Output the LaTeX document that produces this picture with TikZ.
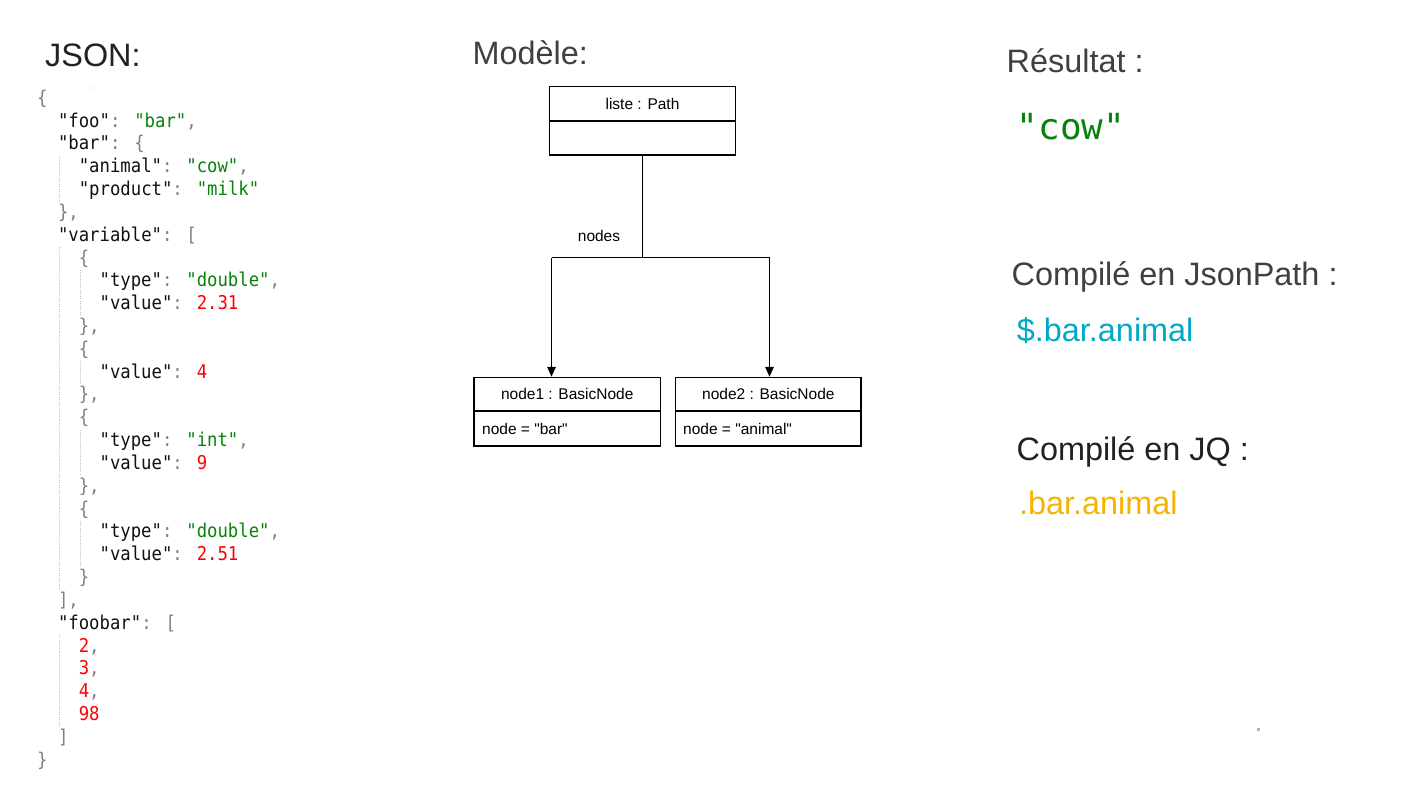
\documentclass[tikz,border=0pt]{standalone}
\usepackage{fontspec}
\setmainfont{Liberation Sans}[Ligatures=TeXOff]
\newfontfamily\codefont{DejaVu Sans Mono}[FakeStretch=0.91]
\newfontfamily\resfont{DejaVu Sans Mono}
\usetikzlibrary{arrows.meta}
\definecolor{jkey}{HTML}{111111}
\definecolor{jstr}{HTML}{08820A}
\definecolor{jnum}{HTML}{FF0000}
\definecolor{jpun}{HTML}{808080}
\definecolor{tdark}{HTML}{222222}
\definecolor{tgray}{HTML}{404040}
\definecolor{jpcyan}{HTML}{00A9C5}
\definecolor{jqgold}{HTML}{F4B400}
\newcommand\jk[1]{\textcolor{jkey}{#1}}
\newcommand\js[1]{\textcolor{jstr}{#1}}
\newcommand\jn[1]{\textcolor{jnum}{#1}}
\newcommand\jp[1]{\textcolor{jpun}{#1}}
\newcommand\cl[3]{\node[code] (l#1) at ({37+10.4*#2},{104.2+22.83*#1}) {#3};}
\newcommand\guide[3]{\draw[guide] ({#1},{104.2+22.83*#2-17}) -- ({#1},{104.2+22.83*#3+6});}
\begin{document}
\begin{tikzpicture}[x=1pt,y=-1pt,
  code/.style={anchor=base west, inner sep=0pt, font=\codefont\fontsize{19}{19}\selectfont},
  guide/.style={gray!50, line width=0.8pt, dash pattern=on 1pt off 1.2pt},
  title/.style={anchor=base west, inner sep=0pt, font=\fontsize{32.4}{36}\selectfont},
  uml/.style={line width=1.4pt, black},
  box/.style={draw, line width=1.4pt, inner sep=0pt},
  umltxt/.style={inner sep=0pt, font=\fontsize{15.5}{17}\selectfont},
  arr/.style={uml, -{Triangle[length=10pt,width=8.5pt]}}]
\fill[white] (0,0) rectangle (1422,800);
\useasboundingbox (0,0) rectangle (1422,800);

% titles
\node[title, text=tdark] (tjson) at (45,66.7) {JSON:};
\node[title, text=tgray] (tmodel) at (472.5,64.3) {Modèle:};
\node[title, text=tgray] (tres) at (1006.5,72.3) {Résultat :};
\node[title, text=tgray] (tjp) at (1011.4,285) {Compilé en JsonPath :};
\node[title, text=jpcyan] (vjp) at (1016.7,341.7) {\$.bar.animal};
\node[title, text=tdark] (tjq) at (1016.4,460) {Compilé en JQ :};
\node[title, text=jqgold] (vjq) at (1018.8,514) {.bar.animal};
\node[anchor=base west, inner sep=0pt, text=jstr, font=\resfont\fontsize{36}{36}\selectfont] (vres) at (1016.5,139) {"cow"};

% JSON code
\guide{59}{3}{4}
\guide{59}{7}{21}
\guide{59}{24}{27}
\guide{80}{8}{9}
\guide{80}{12}{12}
\guide{80}{15}{16}
\guide{80}{19}{20}
\cl{0}{0}{\jp{\{}}
\cl{1}{2}{\jk{"foo"}\jp{:} \js{"bar"}\jp{,}}
\cl{2}{2}{\jk{"bar"}\jp{:} \jp{\{}}
\cl{3}{4}{\jk{"animal"}\jp{:} \js{"cow"}\jp{,}}
\cl{4}{4}{\jk{"product"}\jp{:} \js{"milk"}}
\cl{5}{2}{\jp{\},}}
\cl{6}{2}{\jk{"variable"}\jp{:} \jp{[}}
\cl{7}{4}{\jp{\{}}
\cl{8}{6}{\jk{"type"}\jp{:} \js{"double"}\jp{,}}
\cl{9}{6}{\jk{"value"}\jp{:} \jn{2.31}}
\cl{10}{4}{\jp{\},}}
\cl{11}{4}{\jp{\{}}
\cl{12}{6}{\jk{"value"}\jp{:} \jn{4}}
\cl{13}{4}{\jp{\},}}
\cl{14}{4}{\jp{\{}}
\cl{15}{6}{\jk{"type"}\jp{:} \js{"int"}\jp{,}}
\cl{16}{6}{\jk{"value"}\jp{:} \jn{9}}
\cl{17}{4}{\jp{\},}}
\cl{18}{4}{\jp{\{}}
\cl{19}{6}{\jk{"type"}\jp{:} \js{"double"}\jp{,}}
\cl{20}{6}{\jk{"value"}\jp{:} \jn{2.51}}
\cl{21}{4}{\jp{\}}}
\cl{22}{2}{\jp{],}}
\cl{23}{2}{\jk{"foobar"}\jp{:} \jp{[}}
\cl{24}{4}{\jn{2}\jp{,}}
\cl{25}{4}{\jn{3}\jp{,}}
\cl{26}{4}{\jn{4}\jp{,}}
\cl{27}{4}{\jn{98}}
\cl{28}{2}{\jp{]}}
\cl{29}{0}{\jp{\}}}

% UML model
\node[box, minimum width=186pt, minimum height=68.5pt] (path) at (642.5,120.75) {};
\node[umltxt] (pathT) at (642.5,104) {liste : Path};
\draw[uml] (549.5,121) -- (735.5,121);

\node[box, minimum width=186.5pt, minimum height=68.5pt] (n1) at (567.25,411.75) {};
\node[umltxt] (n1T) at (567.25,394.25) {node1 : BasicNode};
\draw[uml] (474,411) -- (660.5,411);
\node[umltxt, anchor=west] (n1A) at (482,428.5) {node = "bar"};

\node[box, minimum width=185.3pt, minimum height=68.5pt] (n2) at (768.35,411.75) {};
\node[umltxt] (n2T) at (768.35,394.25) {node2 : BasicNode};
\draw[uml] (675.7,411) -- (861,411);
\node[umltxt, anchor=west] (n2A) at (683,428.5) {node = "animal"};

\node[umltxt] (lbl) at (599,236) {nodes};
\coordinate (jl) at (551.5,257.7);
\coordinate (jr) at (769.5,257.7);
\draw[uml] (path.south) |- (jl);
\draw[uml] (path.south) |- (jr);
\draw[arr] (jl) -- (jl |- n1.north);
\draw[arr] (jr) -- (jr |- n2.north);

% stray dots
\fill[gray!60] (1257,728) rectangle (1259.5,730.5);
\fill[gray!30] (92.5,87.5) rectangle (94,89);
\end{tikzpicture}
\end{document}
